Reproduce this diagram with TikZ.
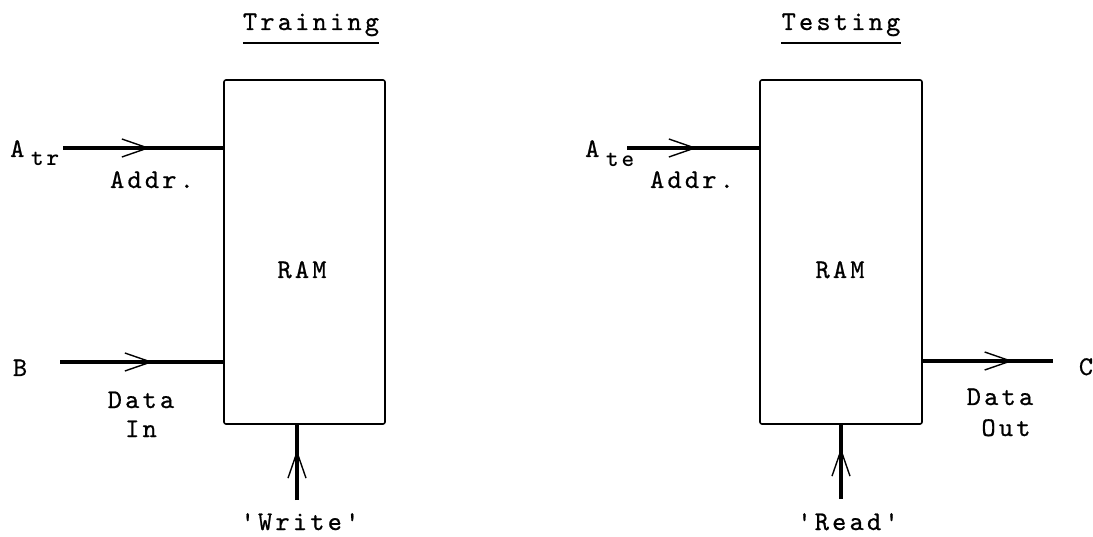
\documentclass[tikz,border=0pt]{standalone}
\usepackage{fontspec}
\newfontfamily\twfont{lmmono10-regular.otf}[LetterSpace=12, FakeBold=0.7, BoldFont=lmmonolt10-bold.otf, BoldFeatures={FakeBold=0}]
\usetikzlibrary{arrows.meta,decorations.markings}
\begin{document}
\begin{tikzpicture}[x=1pt,y=-1pt,
  lbl/.style={font=\twfont\fontsize{27}{32}\selectfont,
    inner sep=0pt, anchor=base},
  sub/.style={font=\twfont\bfseries\fontsize{24}{28}\selectfont,
    inner sep=0pt, anchor=base west},
  ram/.style={draw, line width=1.6pt, rounded corners=2pt, inner sep=0pt},
  wire/.style={line width=3.4pt},
  barbat/.style={postaction={decorate}, decoration={markings,
    mark=at position #1 with {\arrow{Straight Barb[length=26pt,width=18pt,line width=1.4pt]}}}},
  title/.style={lbl},
]
\useasboundingbox (0,0) rectangle (1093,537);

% ---------------- Training ----------------
\node[title] (ttr) at (311,30) {Training};
\draw[line width=1.4pt] ([yshift=-13pt]ttr.base west) -- ([yshift=-13pt]ttr.base east);

\node[ram, minimum width=161pt, minimum height=344pt] (box1) at (304.5,252) {};
\node[lbl] (ram1) at (302,278) {RAM};

% address input
\node[lbl, anchor=base west] (atrA) at (10,157) {A};
\node[sub] (atrS) at (31,166) {tr};
\coordinate (atr) at (63,148);
\draw[wire, barbat=87pt] (atr) -- (atr -| box1.west);
\node[lbl] (addr1) at (152,188) {Addr.};

% data input
\node[lbl] (lb) at (20,376) {B};
\coordinate (bin) at (60,362);
\draw[wire, barbat=93pt] (bin) -- (bin -| box1.west);
\node[lbl] (din1) at (141,408) {Data};
\node[lbl] (din2) at (141,437) {In};

% write strobe
\coordinate (wr) at (297,500);
\draw[wire, barbat=50pt] (wr) -- (wr |- box1.south);
\node[lbl] (lwr) at (300,530) {'Write'};

% ---------------- Testing ----------------
\node[title] (tte) at (841,30) {Testing};
\draw[line width=1.4pt] ([yshift=-13pt]tte.base west) -- ([yshift=-13pt]tte.base east);

\node[ram, minimum width=162pt, minimum height=344pt] (box2) at (841,252) {};
\node[lbl] (ram2) at (840,278) {RAM};

% address input
\node[lbl, anchor=base west] (ateA) at (585,157) {A};
\node[sub] (ateS) at (606,167) {te};
\coordinate (ate) at (627,148);
\draw[wire, barbat=70pt] (ate) -- (ate -| box2.west);
\node[lbl] (addr2) at (692,188) {Addr.};

% data output
\coordinate (cout) at (1053,361);
\draw[wire, barbat=90pt] (cout -| box2.east) -- (cout);
\node[lbl] (lc) at (1086,375) {C};
\node[lbl] (dout1) at (1000,405) {Data};
\node[lbl] (dout2) at (1006,436) {Out};

% read strobe
\coordinate (rd) at (841,499);
\draw[wire, barbat=51pt] (rd) -- (rd |- box2.south);
\node[lbl] (lrd) at (848,530) {'Read'};
\end{tikzpicture}
\end{document}
